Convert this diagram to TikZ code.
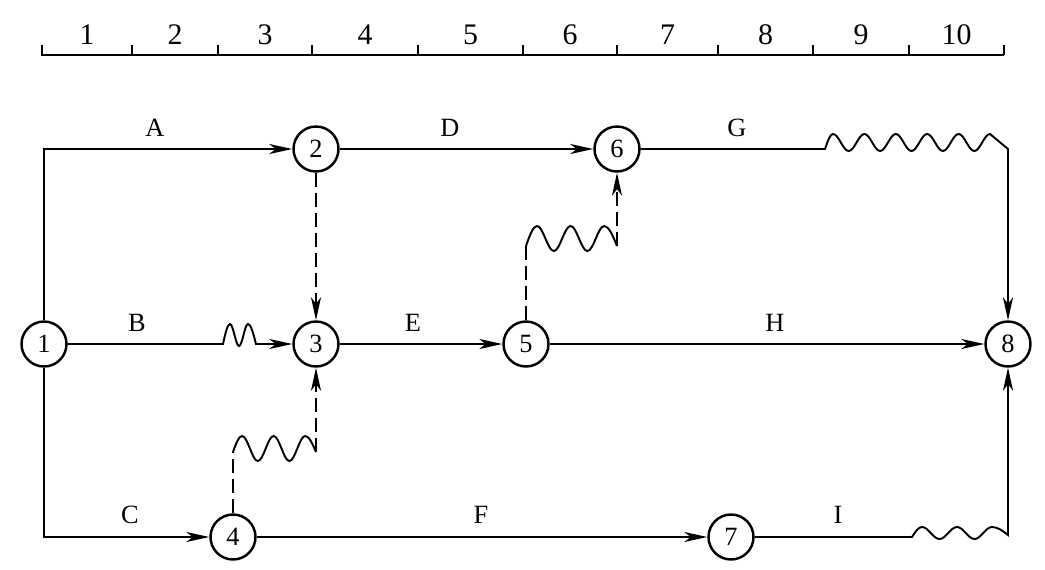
\documentclass[tikz,border=0pt]{standalone}
\usepackage{fontspec}
\setmainfont{Liberation Serif}
\usetikzlibrary{arrows.meta}

\begin{document}
\begin{tikzpicture}[x=0.02cm,y=-0.02cm,line width=1.1pt,
  >={Stealth[length=4.6mm,width=2mm,inset=1.3mm]},
  event/.style={circle,draw,line width=1.4pt,minimum size=0.9cm,inner sep=0pt,
    font=\fontsize{15}{18}\selectfont},
  task/.style={font=\fontsize{15}{18}\selectfont},
  day/.style={font=\fontsize{17}{20}\selectfont},
  dummy/.style={dash pattern=on 0.28cm off 0.12cm}]
\useasboundingbox (0,0) rectangle (1045,569);

% time scale
\draw (42,45) -- (42,55) -- (1004,55);
\foreach \a/\b [count=\i] in {42/132,132/218,218/312,312/418,418/523,
                              523/617,617/718,718/813,813/909,909/1004}
  {\draw (\b,55) -- (\b,45);
   \node[day] (d\i) at ({(\a+\b)/2},35) {\i};}

% events
\node[event] (n1) at (44,344) {1};
\node[event] (n2) at (316,149) {2};
\node[event] (n3) at (316,344) {3};
\node[event] (n4) at (233,537) {4};
\node[event] (n5) at (526,344) {5};
\node[event] (n6) at (617,149) {6};
\node[event] (n7) at (731,537) {7};
\node[event] (n8) at (1008,344) {8};

% bends and free float
\coordinate (a0) at (44,149);
\coordinate (c0) at (44,537);
\coordinate (b1) at (223,344);
\coordinate (g1) at (825,149);
\coordinate (g3) at (1008,149);
\coordinate (i1) at (912,537);
\coordinate (u1) at (233,452);
\coordinate (u2) at (316,452);
\coordinate (v1) at (526,246);
\coordinate (v2) at (617,246);

% activities
\draw[->] (n1) -- (a0) -- (n2);
\draw[->] (n1) -- (b1) sin ++(7,-20) cos ++(4.5,11) sin ++(4.5,11)
  cos ++(4.5,-11) sin ++(4.5,-11) cos ++(8,20) -- (n3);
\draw[->] (n1) -- (c0) -- (n4);
\draw[->] (n2) -- (n6);
\draw[->] (n3) -- (n5);
\draw[->] (n4) -- (n7);
\draw[->] (n6) -- (g1) sin ++(8,-15)
  \foreach \k in {1,...,5} {cos ++(7.85,8.5) sin ++(7.85,8.5) cos ++(7.85,-8.5) sin ++(7.85,-8.5)}
  -- (g3) -- (n8);
\draw[->] (n5) -- (n8);
\draw[->] (n7) -- (i1) sin ++(10,-10)
  \foreach \k in {1,2} {cos ++(8.75,6) sin ++(8.75,6) cos ++(8.75,-6) sin ++(8.75,-6)}
  cos ++(16,8) -- (n8);

% dummy activities
\draw[->,dummy] (n2) -- (n3);
\draw[dummy] (n4) -- (u1);
\draw (u1) sin ++(9,-16)
  \foreach \k in {1,2} {cos ++(7.9,12.5) sin ++(7.9,12.5) cos ++(7.9,-12.5) sin ++(7.9,-12.5)}
  cos ++(10.8,16);
\draw[->,dummy] (u2) -- (n3);
\draw[dummy] (n5) -- (v1);
\draw (v1) sin ++(11,-20)
  \foreach \k in {1,2} {cos ++(8.4,12.5) sin ++(8.4,12.5) cos ++(8.4,-12.5) sin ++(8.4,-12.5)}
  cos ++(12.8,20);
\draw[->,dummy] (v2) -- (n6);

% labels
\node[task] (lA) at (155,128) {A};
\node[task] (lD) at (450,128) {D};
\node[task] (lG) at (737,128) {G};
\node[task] (lB) at (137,323) {B};
\node[task] (lE) at (413,323) {E};
\node[task] (lH) at (775,323) {H};
\node[task] (lC) at (130,515) {C};
\node[task] (lF) at (481,515) {F};
\node[task] (lI) at (838,515) {I};
\end{tikzpicture}
\end{document}
